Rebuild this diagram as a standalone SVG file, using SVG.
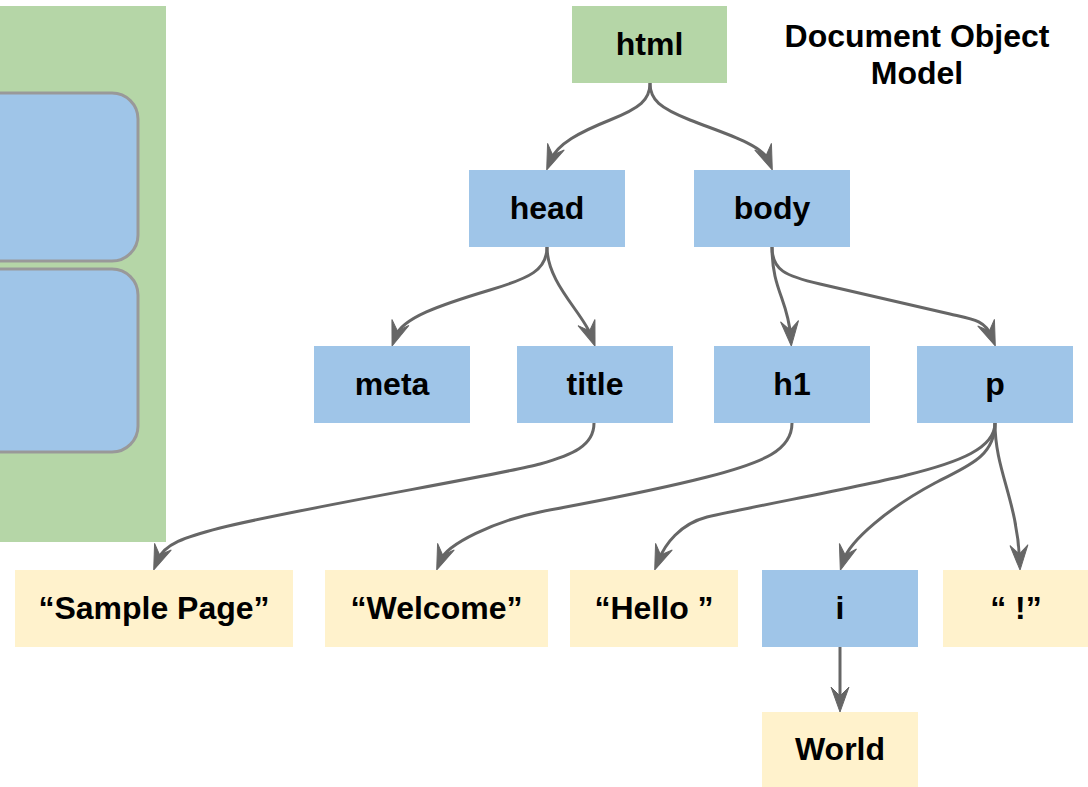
<svg xmlns="http://www.w3.org/2000/svg" width="1088" height="787" viewBox="0 0 1088 787">
<style>
.t{font-family:"Liberation Sans",Arial,sans-serif;font-weight:bold;font-size:32px;fill:#000;text-anchor:middle}
.g{fill:#B5D6A7}
.b{fill:#9FC5E8}
.y{fill:#FFF2CC}
.e{fill:none;stroke:#666;stroke-width:3;marker-end:url(#arr)}
.rb{fill:#9FC5E8;stroke:#999;stroke-width:3}
</style>
<defs>
<marker id="arr" markerUnits="userSpaceOnUse" viewBox="-20 -12 34 24" refX="0" refY="0" markerWidth="34" markerHeight="24" orient="auto">
<path d="M10,0 L-15,-9 L-6,0 L-15,9 Z" fill="#666" stroke="#666" stroke-width="1"/>
</marker>
</defs>
<rect width="1088" height="787" fill="#fff"/>
<g id="browser-panel">
<rect class="g" x="0" y="6" width="166" height="536"/>
<rect class="rb" x="-40" y="93" width="178" height="168" rx="26"/>
<rect class="rb" x="-40" y="269" width="178" height="183" rx="26"/>
</g>
<g id="title-label"><text class="t" x="917" y="47">Document Object</text><text class="t" x="917" y="84">Model</text></g>
<g id="connectors">
<path class="e" d="M650,83 C650,100 640,108 610,120 C580,132 557,144 550.4,160.6"/>
<path class="e" d="M650,83 C650,100 660,108 690,120 C720,132 762,144 768.6,160.6"/>
<path class="e" d="M547,247 C547,270 530,278 490,290 C440,305 402,318 395.4,336.6"/>
<path class="e" d="M547,247 C547,283 583,313 591.6,336.6"/>
<path class="e" d="M772,247 C772,290 788,300 790.6,336.1"/>
<path class="e" d="M772,247 C772,270 785,276 820,284 L950,314 C972,319 985,320 991.6,336.6"/>
<path class="e" d="M594,423 C594,446 572,455 540,464 C500,475 300,508 220,528 C185,537 164,544 157.4,560.6"/>
<path class="e" d="M792,423 C792,450 765,462 707,477 C640,494 590,502 540,512 C495,521 447,544 440.4,560.6"/>
<path class="e" d="M995,423 C995,448 960,462 907,475 C860,487 760,505 707,517 C680,524 665,544 658.4,560.6"/>
<path class="e" d="M995,423 C995,458 965,467 935,483 C890,507 850,540 843.4,560.6"/>
<path class="e" d="M995,423 C995,470 1017,500 1019.6,560.1"/>
<path class="e" d="M840,647 L840,702"/>
</g>
<g id="html"><rect class="g" x="572" y="6" width="155" height="77"/><text class="t" x="649.5" y="55">html</text></g>
<g id="head"><rect class="b" x="469" y="170" width="156" height="77"/><text class="t" x="547" y="219">head</text></g>
<g id="body"><rect class="b" x="694" y="170" width="156" height="77"/><text class="t" x="772" y="219">body</text></g>
<g id="meta"><rect class="b" x="314" y="346" width="156" height="77"/><text class="t" x="392" y="395">meta</text></g>
<g id="title"><rect class="b" x="517" y="346" width="156" height="77"/><text class="t" x="595" y="395">title</text></g>
<g id="h1"><rect class="b" x="714" y="346" width="156" height="77"/><text class="t" x="792" y="395">h1</text></g>
<g id="p"><rect class="b" x="917" y="346" width="156" height="77"/><text class="t" x="995" y="395">p</text></g>
<g id="sample-page"><rect class="y" x="15" y="570" width="278" height="77"/><text class="t" x="154" y="619">“Sample Page”</text></g>
<g id="welcome"><rect class="y" x="325" y="570" width="223" height="77"/><text class="t" x="436.5" y="619">“Welcome”</text></g>
<g id="hello"><rect class="y" x="570" y="570" width="168" height="77"/><text class="t" x="654" y="619" xml:space="preserve">“Hello ”</text></g>
<g id="i"><rect class="b" x="762" y="570" width="156" height="77"/><text class="t" x="840" y="619">i</text></g>
<g id="excl"><rect class="y" x="943" y="570" width="145" height="77"/><text class="t" x="1016" y="619" xml:space="preserve">“ !”</text></g>
<g id="world"><rect class="y" x="762" y="712" width="156" height="75"/><text class="t" x="840" y="760">World</text></g>
</svg>
